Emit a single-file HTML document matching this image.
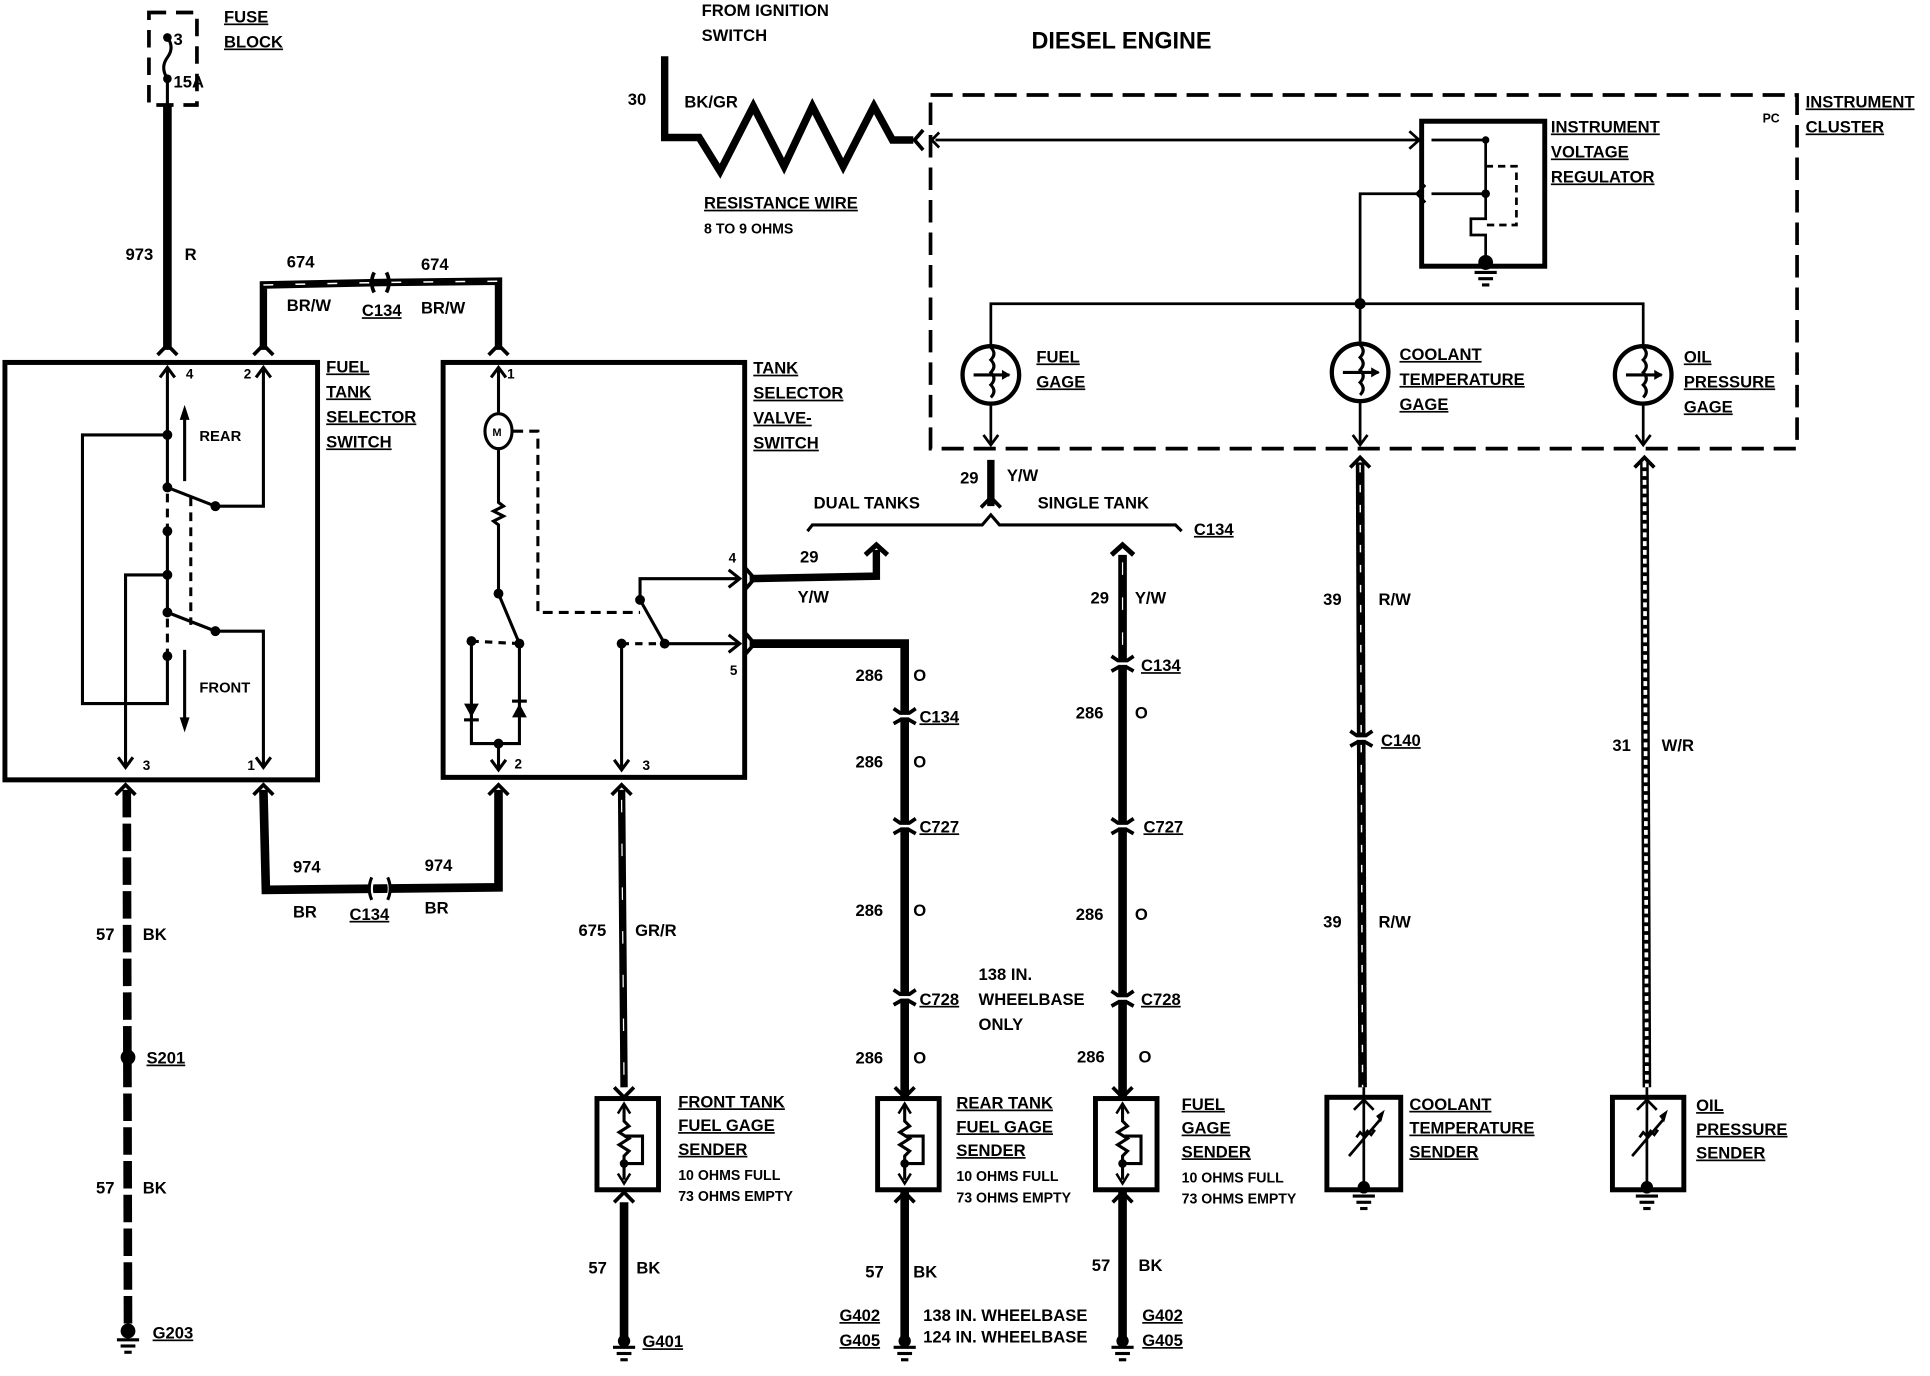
<!DOCTYPE html>
<html><head><meta charset="utf-8"><style>
html,body{margin:0;padding:0;background:#fff;}
svg{display:block;}
text{font-family:"Liberation Sans",sans-serif;font-weight:bold;fill:#000;}
.u{text-decoration:underline;}
</style></head><body>
<svg width="1930" height="1376" viewBox="0 0 1568 1101" preserveAspectRatio="none" xmlns="http://www.w3.org/2000/svg" font-size="13.5">
<defs>
<g id="gnd"><line x1="-9" y1="0" x2="9" y2="0" stroke="#000" stroke-width="2.5"/><line x1="-6" y1="5" x2="6" y2="5" stroke="#000" stroke-width="2.5"/><line x1="-3" y1="10" x2="3" y2="10" stroke="#000" stroke-width="2.5"/></g>
<g id="conn"><path d="M-9,-6 L0,0 L9,-6 M-9,6 L0,1 L9,6" fill="none" stroke="#000" stroke-width="3"/><line x1="-5" y1="0" x2="5" y2="0" stroke="#fff" stroke-width="2"/></g>
<g id="sender"><rect x="-22" y="0" width="50" height="73" fill="#fff" stroke="#000" stroke-width="4"/><path d="M0,5 L0,18 l4,4 -8,5 8,5 -8,5 8,5 -4,4 L0,65 M0,30 L15,30 L15,52 L0,52" fill="none" stroke="#000" stroke-width="2.5"/><path d="M-5,12 L0,4 L5,12 M-5,60 L0,68 L5,60" fill="none" stroke="#000" stroke-width="2"/><circle cx="0" cy="52" r="3.5"/></g>
<g id="gage"><circle r="23" fill="none" stroke="#000" stroke-width="3.5"/><path d="M0,-22 q5,5 0,10 q5,5 0,10 q5,5 0,10 q5,5 0,10 M-14,0 L15,0" fill="none" stroke="#000" stroke-width="2.5"/><path d="M9,-4 L16,0 L9,4z"/></g>
</defs>

<!-- Fuse block -->
<rect x="121" y="10" width="39" height="74" fill="none" stroke="#000" stroke-width="3" stroke-dasharray="14,8"/>
<path d="M136,30 q6,8 0,16 q-6,8 0,17 L136,84" fill="none" stroke="#000" stroke-width="2.5"/>
<circle cx="136" cy="30" r="3.5"/><circle cx="136" cy="63" r="3.5"/>
<text x="141" y="36">3</text><text x="141" y="70">15A</text>
<text x="182" y="18" class="u">FUSE</text><text x="182" y="38" class="u">BLOCK</text>

<!-- 973 R -->
<line x1="136" y1="84" x2="136" y2="280" stroke="#000" stroke-width="7"/>
<path d="M128,284 L136,276 L144,284" fill="none" stroke="#000" stroke-width="3"/>
<text x="102" y="208">973</text><text x="150" y="208">R</text>

<!-- 674 wire -->
<path d="M214,280 L214,228 L310,226 M310,226 L405,225 L405,280" fill="none" stroke="#000" stroke-width="6"/>
<path d="M214,228 L310,226 L405,225" fill="none" stroke="#fff" stroke-width="1.2" stroke-dasharray="8,18"/>
<path d="M206,284 L214,276 L222,284 M397,284 L405,276 L413,284" fill="none" stroke="#000" stroke-width="3"/>
<path d="M304,218 q-4,8 0,16 M314,218 q4,8 0,16" fill="none" stroke="#000" stroke-width="3"/>
<text x="233" y="214">674</text><text x="233" y="249">BR/W</text><text x="294" y="253" class="u">C134</text>
<text x="342" y="216">674</text><text x="342" y="251">BR/W</text>

<!-- Fuel tank selector switch box -->
<rect x="4" y="290" width="254" height="334" fill="none" stroke="#000" stroke-width="4"/>
<text x="265" y="298" class="u">FUEL</text><text x="265" y="318" class="u">TANK</text><text x="265" y="338" class="u">SELECTOR</text><text x="265" y="358" class="u">SWITCH</text>
<g fill="none" stroke="#000" stroke-width="2.5">
<path d="M136,296 L136,390 M130,302 L136,294 L142,302"/>
<path d="M214,296 L214,405 L175,405 M208,302 L214,294 L220,302"/>
<path d="M136,348 L67,348 L67,563 L136,563 L136,525"/>
<path d="M136,390 L175,405"/>
<path d="M136,425 L136,490"/>
<path d="M136,460 L102,460 L102,612 M96,606 L102,614 L108,606"/>
<path d="M136,490 L175,505 L214,505 L214,612 M208,606 L214,614 L220,606"/>
<path d="M136,395 L136,425 M136,495 L136,525 M155,398 L155,500" stroke-dasharray="7,5"/>
<path d="M150,385 L150,330"/><path d="M150,520 L150,580"/>
</g>
<path d="M146,336 L150,324 L154,336z"/><path d="M146,574 L150,586 L154,574z"/>
<circle cx="136" cy="348" r="4"/><circle cx="136" cy="390" r="4"/><circle cx="175" cy="405" r="4"/><circle cx="136" cy="425" r="4"/><circle cx="136" cy="460" r="4"/><circle cx="136" cy="490" r="4"/><circle cx="175" cy="505" r="4"/><circle cx="136" cy="525" r="4"/>
<text x="162" y="353" style="font-size:12px">REAR</text><text x="162" y="554" style="font-size:12px">FRONT</text>
<text x="151" y="303" style="font-size:11px">4</text><text x="198" y="303" style="font-size:11px">2</text>
<text x="116" y="616" style="font-size:11px">3</text><text x="201" y="616" style="font-size:11px">1</text>

<!-- 57 BK left -->
<path d="M94,636 L102,628 L110,636" fill="none" stroke="#000" stroke-width="3"/>
<line x1="103" y1="632" x2="104" y2="1065" stroke="#000" stroke-width="7" stroke-dasharray="22,5"/>
<circle cx="104" cy="846" r="6"/><circle cx="104" cy="1065" r="6"/>
<use href="#gnd" x="104" y="1072"/>
<text x="78" y="752">57</text><text x="116" y="752">BK</text>
<text x="119" y="851" class="u">S201</text>
<text x="78" y="955">57</text><text x="116" y="955">BK</text>
<text x="124" y="1071" class="u">G203</text>

<!-- 974 wire -->
<path d="M214,632 L216,712 L405,710 L405,632" fill="none" stroke="#000" stroke-width="7"/>
<path d="M206,636 L214,628 L222,636 M397,636 L405,628 L413,636" fill="none" stroke="#000" stroke-width="3"/>
<path d="M304,703 q-4,8 0,17 M314,703 q4,8 0,17" fill="none" stroke="#fff" stroke-width="2"/>
<path d="M302,702 q-4,9 0,18 M315,702 q4,9 0,18" fill="none" stroke="#000" stroke-width="2.5"/>
<text x="238" y="698">974</text><text x="238" y="734">BR</text><text x="284" y="736" class="u">C134</text>
<text x="345" y="697">974</text><text x="345" y="731">BR</text>

<!-- Tank selector valve switch box -->
<rect x="360" y="290" width="245" height="332" fill="none" stroke="#000" stroke-width="4"/>
<text x="612" y="299" class="u">TANK</text><text x="612" y="319" class="u">SELECTOR</text><text x="612" y="339" class="u">VALVE-</text><text x="612" y="359" class="u">SWITCH</text>
<g fill="none" stroke="#000" stroke-width="2.5">
<path d="M405,296 L405,330 M399,302 L405,294 L411,302"/>
<ellipse cx="405" cy="345" rx="11" ry="14"/>
<path d="M405,360 L405,402 l4,3 -8,4 8,4 -8,4 4,3 L405,475 L422,515"/>
<path d="M417,345 L437,345 L437,490 L520,490" stroke-dasharray="8,5"/>
<path d="M383,513 L422,515 M505,515 L540,515" stroke-dasharray="6,5"/>
<path d="M383,513 L383,595 L422,595 L422,515 M405,595 L405,614 M399,608 L405,616 L411,608"/>
<path d="M520,480 L520,463 L600,463 M592,456 L601,463 L592,470"/>
<path d="M520,480 L540,515 L600,515 M592,508 L601,515 L592,522"/>
<path d="M505,515 L505,614 M499,608 L505,616 L511,608"/>
</g>
<path d="M377,563 L389,563 L383,574z"/><line x1="377" y1="576" x2="389" y2="576" stroke="#000" stroke-width="2.5"/>
<path d="M416,574 L428,574 L422,563z"/><line x1="416" y1="561" x2="428" y2="561" stroke="#000" stroke-width="2.5"/>
<text x="400" y="349" style="font-size:9px">M</text>
<circle cx="405" cy="475" r="4"/><circle cx="422" cy="515" r="4"/><circle cx="383" cy="513" r="4"/><circle cx="405" cy="595" r="4"/><circle cx="520" cy="480" r="4"/><circle cx="540" cy="515" r="4"/><circle cx="505" cy="515" r="4"/>
<text x="412" y="303" style="font-size:11px">1</text><text x="592" y="450" style="font-size:11px">4</text><text x="593" y="540" style="font-size:11px">5</text><text x="418" y="615" style="font-size:11px">2</text><text x="522" y="616" style="font-size:11px">3</text>

<!-- pin4 Y/W stub -->
<path d="M609,463 L712,461 L712,440" fill="none" stroke="#000" stroke-width="6"/>
<path d="M606,455 L613,463 L606,471" fill="none" stroke="#000" stroke-width="3"/>
<path d="M703,444 L712,436 L721,444" fill="none" stroke="#000" stroke-width="4"/>
<text x="650" y="450">29</text><text x="648" y="482">Y/W</text>

<!-- pin5 286 O rear -->
<path d="M609,515 L735,515 L735,1072" fill="none" stroke="#000" stroke-width="7"/>
<path d="M606,507 L613,515 L606,523" fill="none" stroke="#000" stroke-width="3"/>
<use href="#conn" x="735" y="573"/><use href="#conn" x="735" y="661"/><use href="#conn" x="735" y="798"/>
<text x="695" y="545">286</text><text x="742" y="545">O</text><text x="747" y="578" class="u">C134</text>
<text x="695" y="614">286</text><text x="742" y="614">O</text><text x="747" y="666" class="u">C727</text>
<text x="695" y="733">286</text><text x="742" y="733">O</text><text x="747" y="804" class="u">C728</text>
<text x="695" y="851">286</text><text x="742" y="851">O</text>
<text x="795" y="784">138 IN.</text><text x="795" y="804">WHEELBASE</text><text x="795" y="824">ONLY</text>
<use href="#sender" x="735" y="879"/>
<path d="M727,870 L735,878 L743,870 M727,962 L735,954 L743,962" fill="none" stroke="#000" stroke-width="3"/>
<text x="777" y="887" class="u">REAR TANK</text><text x="777" y="906" class="u">FUEL GAGE</text><text x="777" y="925" class="u">SENDER</text>
<text x="777" y="945" style="font-size:11.5px">10 OHMS FULL</text><text x="777" y="962" style="font-size:11.5px">73 OHMS EMPTY</text>
<circle cx="735" cy="1073" r="5"/><use href="#gnd" x="735" y="1078"/>
<text x="703" y="1022">57</text><text x="742" y="1022">BK</text>
<text x="682" y="1057" class="u">G402</text><text x="682" y="1077" class="u">G405</text>
<text x="750" y="1057">138 IN. WHEELBASE</text><text x="750" y="1074">124 IN. WHEELBASE</text>

<!-- 675 GR/R front -->
<line x1="505" y1="632" x2="507" y2="870" stroke="#000" stroke-width="6"/>
<line x1="505" y1="640" x2="507" y2="870" stroke="#fff" stroke-width="1" stroke-dasharray="10,25"/>
<path d="M497,636 L505,628 L513,636" fill="none" stroke="#000" stroke-width="3"/>
<text x="470" y="749">675</text><text x="516" y="749">GR/R</text>
<use href="#sender" x="507" y="879"/>
<path d="M499,870 L507,878 L515,870 M499,962 L507,954 L515,962" fill="none" stroke="#000" stroke-width="3"/>
<line x1="507" y1="962" x2="507" y2="1072" stroke="#000" stroke-width="7"/>
<circle cx="507" cy="1073" r="5"/><use href="#gnd" x="507" y="1078"/>
<text x="478" y="1019">57</text><text x="517" y="1019">BK</text><text x="522" y="1078" class="u">G401</text>
<text x="551" y="886" class="u">FRONT TANK</text><text x="551" y="905" class="u">FUEL GAGE</text><text x="551" y="924" class="u">SENDER</text>
<text x="551" y="944" style="font-size:11.5px">10 OHMS FULL</text><text x="551" y="961" style="font-size:11.5px">73 OHMS EMPTY</text>

<!-- single tank -->
<line x1="912" y1="444" x2="912" y2="1072" stroke="#000" stroke-width="7"/>
<line x1="912" y1="450" x2="912" y2="525" stroke="#fff" stroke-width="1" stroke-dasharray="10,18"/>
<path d="M903,444 L912,436 L921,444" fill="none" stroke="#000" stroke-width="4"/>
<use href="#conn" x="912" y="531"/><use href="#conn" x="912" y="661"/><use href="#conn" x="912" y="799"/>
<text x="886" y="483">29</text><text x="922" y="483">Y/W</text><text x="927" y="537" class="u">C134</text>
<text x="874" y="575">286</text><text x="922" y="575">O</text><text x="929" y="666" class="u">C727</text>
<text x="874" y="736">286</text><text x="922" y="736">O</text><text x="927" y="804" class="u">C728</text>
<text x="875" y="850">286</text><text x="925" y="850">O</text>
<use href="#sender" x="912" y="879"/>
<path d="M904,870 L912,878 L920,870 M904,962 L912,954 L920,962" fill="none" stroke="#000" stroke-width="3"/>
<text x="960" y="888" class="u">FUEL</text><text x="960" y="907" class="u">GAGE</text><text x="960" y="926" class="u">SENDER</text>
<text x="960" y="946" style="font-size:11.5px">10 OHMS FULL</text><text x="960" y="963" style="font-size:11.5px">73 OHMS EMPTY</text>
<circle cx="912" cy="1073" r="5"/><use href="#gnd" x="912" y="1078"/>
<text x="887" y="1017">57</text><text x="925" y="1017">BK</text>
<text x="928" y="1057" class="u">G402</text><text x="928" y="1077" class="u">G405</text>

<!-- bracket -->
<path d="M656,425 L660,420 L798,420 L805,412 L812,420 L955,420 L960,425" fill="none" stroke="#000" stroke-width="2.5"/>
<text x="661" y="407">DUAL TANKS</text><text x="843" y="407">SINGLE TANK</text><text x="970" y="428" class="u">C134</text>
<line x1="805" y1="368" x2="805" y2="405" stroke="#000" stroke-width="6"/>
<path d="M797,406 L805,398 L813,406" fill="none" stroke="#000" stroke-width="3"/>
<text x="780" y="387">29</text><text x="818" y="385">Y/W</text>

<!-- Ignition / resistance wire -->
<path d="M540,45 L540,110 L568,110 L585,137 L612,85 L637,133 L660,85 L685,133 L710,85 L725,112 L742,112" fill="none" stroke="#000" stroke-width="6" stroke-linejoin="miter"/>
<path d="M750,104 L743,112 L750,120" fill="none" stroke="#000" stroke-width="3"/>
<text x="570" y="13">FROM IGNITION</text><text x="570" y="33">SWITCH</text>
<text x="510" y="84">30</text><text x="556" y="86">BK/GR</text>
<text x="572" y="167" class="u">RESISTANCE WIRE</text><text x="572" y="187" style="font-size:11.5px">8 TO 9 OHMS</text>
<text x="838" y="39" style="font-size:19px">DIESEL ENGINE</text>

<!-- Instrument cluster -->
<rect x="756" y="76" width="704" height="283" fill="none" stroke="#000" stroke-width="3" stroke-dasharray="18,8"/>
<text x="1432" y="98" style="font-size:10px">PC</text>
<text x="1467" y="86" class="u">INSTRUMENT</text><text x="1467" y="106" class="u">CLUSTER</text>
<g fill="none" stroke="#000" stroke-width="2.2">
<path d="M760,112 L1153,112 M1145,105 L1153,112 L1145,119 M763,106 L757,112 L763,118"/>
<path d="M1153,155 L1105,155 L1105,243 M1158,148 L1151,155 L1158,162"/>
<path d="M805,277 L805,243 L1335,243 L1335,277 M1105,243 L1105,275"/>
<path d="M805,323 L805,355 M1105,321 L1105,355 M1335,323 L1335,355 M799,348 L805,356 L811,348 M1099,348 L1105,356 L1111,348 M1329,348 L1335,356 L1341,348"/>
<path d="M1163,112 L1207,112 L1207,155 L1163,155 M1207,155 L1207,175 L1195,175 L1195,188 L1207,188 L1207,208"/>
<path d="M1207,133 L1232,133 L1232,180 L1207,180" stroke-dasharray="6,4"/>
</g>
<rect x="1155" y="97" width="100" height="116" fill="none" stroke="#000" stroke-width="4"/>
<circle cx="1207" cy="112" r="3"/><circle cx="1207" cy="155" r="3.5"/><circle cx="1207" cy="210" r="6"/><use href="#gnd" x="1207" y="218"/>
<circle cx="1105" cy="243" r="4.5"/>
<text x="1260" y="106" class="u">INSTRUMENT</text><text x="1260" y="126" class="u">VOLTAGE</text><text x="1260" y="146" class="u">REGULATOR</text>
<use href="#gage" x="805" y="300"/><use href="#gage" x="1105" y="298"/><use href="#gage" x="1335" y="300"/>
<text x="842" y="290" class="u">FUEL</text><text x="842" y="310" class="u">GAGE</text>
<text x="1137" y="288" class="u">COOLANT</text><text x="1137" y="308" class="u">TEMPERATURE</text><text x="1137" y="328" class="u">GAGE</text>
<text x="1368" y="290" class="u">OIL</text><text x="1368" y="310" class="u">PRESSURE</text><text x="1368" y="330" class="u">GAGE</text>

<!-- coolant wire -->
<line x1="1105" y1="370" x2="1107" y2="870" stroke="#000" stroke-width="7"/>
<line x1="1105" y1="372" x2="1107" y2="870" stroke="#fff" stroke-width="1.2" stroke-dasharray="6,10"/>
<path d="M1097,374 L1105,366 L1113,374" fill="none" stroke="#000" stroke-width="3"/>
<use href="#conn" x="1106" y="591"/>
<text x="1075" y="484">39</text><text x="1120" y="484">R/W</text><text x="1122" y="597" class="u">C140</text>
<text x="1075" y="742">39</text><text x="1120" y="742">R/W</text>
<rect x="1078" y="878" width="60" height="74" fill="none" stroke="#000" stroke-width="4"/>
<path d="M1108,870 L1108,950 M1100,888 L1108,880 L1116,888 M1096,925 L1122,895 M1102,910 l3,-4 3,3 3,-4 3,3 3,-4" fill="none" stroke="#000" stroke-width="2.2"/>
<path d="M1118,893 L1125,888 L1122,898z"/>
<circle cx="1108" cy="950" r="5"/><use href="#gnd" x="1108" y="957"/>
<text x="1145" y="888" class="u">COOLANT</text><text x="1145" y="907" class="u">TEMPERATURE</text><text x="1145" y="926" class="u">SENDER</text>

<!-- oil wire -->
<line x1="1336" y1="370" x2="1338" y2="870" stroke="#000" stroke-width="7"/>
<line x1="1336" y1="370" x2="1338" y2="870" stroke="#fff" stroke-width="3" stroke-dasharray="4,3"/>
<path d="M1328,374 L1336,366 L1344,374" fill="none" stroke="#000" stroke-width="3"/>
<text x="1310" y="601">31</text><text x="1350" y="601">W/R</text>
<rect x="1310" y="878" width="58" height="74" fill="none" stroke="#000" stroke-width="4"/>
<path d="M1338,870 L1338,950 M1330,888 L1338,880 L1346,888 M1326,925 L1352,895 M1332,910 l3,-4 3,3 3,-4 3,3 3,-4" fill="none" stroke="#000" stroke-width="2.2"/>
<path d="M1348,893 L1355,888 L1352,898z"/>
<circle cx="1338" cy="950" r="5"/><use href="#gnd" x="1338" y="957"/>
<text x="1378" y="889" class="u">OIL</text><text x="1378" y="908" class="u">PRESSURE</text><text x="1378" y="927" class="u">SENDER</text>
</svg>
</body></html>
